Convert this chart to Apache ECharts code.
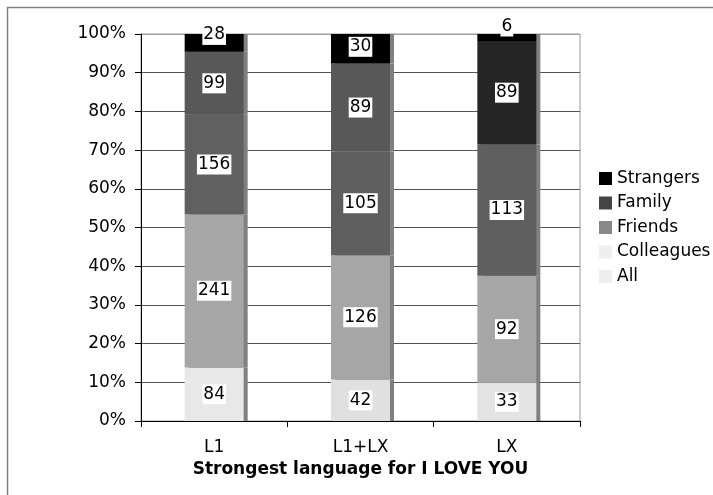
<!DOCTYPE html>
<html>
<head>
<meta charset="utf-8">
<script src="https://cdn.jsdelivr.net/npm/echarts@6/dist/echarts.min.js"></script>
<style>
  html, body { margin: 0; padding: 0; background: #fff; }
  #chart { width: 713px; height: 495px; }
</style>
</head>
<body>
<div id="chart"></div>
<script>
// Who people say "I love you" to, by strongest language
const categories = ['L1', 'L1+LX', 'LX'];
const seriesNames = ['All', 'Colleagues', 'Friends', 'Family', 'Strangers'];
const allCounts        = [84, 42, 33];
const colleaguesCounts = [241, 126, 92];
const friendsCounts    = [156, 105, 113];
const familyCounts     = [99, 89, 89];
const strangersCounts  = [28, 30, 6];
const yTicks = [0, 10, 20, 30, 40, 50, 60, 70, 80, 90, 100];

const counts = [allCounts, colleaguesCounts, friendsCounts, familyCounts, strangersCounts];
const totals = categories.map((_, i) => counts.reduce((s, arr) => s + arr[i], 0));

// fill shades per series, per category (pattern fills rendered as flat greys)
const barColors = [
  ['#e8e8e8', '#e0e0e0', '#e3e3e3'],
  ['#a6a6a6', '#a6a6a6', '#a6a6a6'],
  ['#606060', '#5f5f5f', '#5f5f5f'],
  ['#585858', '#585858', '#262626'],
  ['#000000', '#000000', '#000000']
];
const legendColors = ['#eeeeee', '#eeeeee', '#888888', '#444444', '#000000'];
// small top segments get their labels nudged upward
const topLabelShift = [-8, -2, -11];

const FONT = 'DejaVu Sans';
const FS = 17;

const series = seriesNames.map((name, s) => ({
  name: name,
  type: 'bar',
  stack: 'total',
  barWidth: 59,
  itemStyle: { color: legendColors[s] },
  data: counts[s].map((c, i) => {
    const item = {
      value: c / totals[i] * 100,
      count: c,
      itemStyle: {
        color: barColors[s][i],
        shadowColor: '#808080',
        shadowOffsetX: 4,
        shadowOffsetY: 0,
        shadowBlur: 0
      }
    };
    if (s === counts.length - 1) item.label = { offset: [0, topLabelShift[i]] };
    return item;
  }),
  label: {
    show: true,
    position: 'inside',
    formatter: p => String(p.data.count),
    color: '#000',
    fontFamily: FONT,
    fontSize: FS,
    backgroundColor: '#fff',
    padding: [2, 1, 1, 1]
  }
}));

const chart = echarts.init(document.getElementById('chart'), null, { renderer: 'canvas' });
chart.setOption({
  animation: false,
  backgroundColor: '#fff',
  textStyle: { fontFamily: FONT },
  grid: {
    left: 141, top: 34, right: 133, bottom: 74,
    show: true, borderColor: '#999', borderWidth: 1
  },
  legend: {
    orient: 'vertical',
    left: 599,
    top: 170,
    padding: 0,
    itemWidth: 13,
    itemHeight: 13,
    itemGap: 7.5,
    icon: 'rect',
    selectedMode: false,
    textStyle: { fontFamily: FONT, fontSize: FS, color: '#000' },
    data: seriesNames.slice().reverse().map(n => ({
      name: n,
      itemStyle: { color: legendColors[seriesNames.indexOf(n)] }
    }))
  },
  xAxis: {
    type: 'category',
    data: categories,
    boundaryGap: true,
    axisLine: { lineStyle: { color: '#000', width: 1 } },
    axisTick: { show: true, length: 6, lineStyle: { color: '#000' } },
    axisLabel: { color: '#000', fontFamily: FONT, fontSize: FS, margin: 18 },
    name: 'Strongest language for I LOVE YOU',
    nameLocation: 'middle',
    nameGap: 37,
    nameTextStyle: { color: '#000', fontFamily: FONT, fontSize: FS, fontWeight: 'bold' }
  },
  yAxis: {
    type: 'value',
    min: yTicks[0],
    max: yTicks[yTicks.length - 1],
    interval: 10,
    axisLine: { show: true, lineStyle: { color: '#000', width: 1 } },
    axisTick: { show: true, length: 6, lineStyle: { color: '#000' } },
    axisLabel: { color: '#000', fontFamily: FONT, fontSize: FS, margin: 15, formatter: '{value}%' },
    splitLine: {
      show: true,
      lineStyle: {
        color: ['#555', '#555', '#555', '#555', '#555', '#555', '#555', '#555', '#555', '#555', '#a0a0a0'],
        width: 1
      }
    }
  },
  graphic: [{
    type: 'rect',
    shape: { x: 7.5, y: 7.5, width: 800, height: 600 },
    style: { fill: null, stroke: '#808080', lineWidth: 1.5 },
    silent: true,
    z: -1
  }],
  series: series
});
</script>
</body>
</html>
